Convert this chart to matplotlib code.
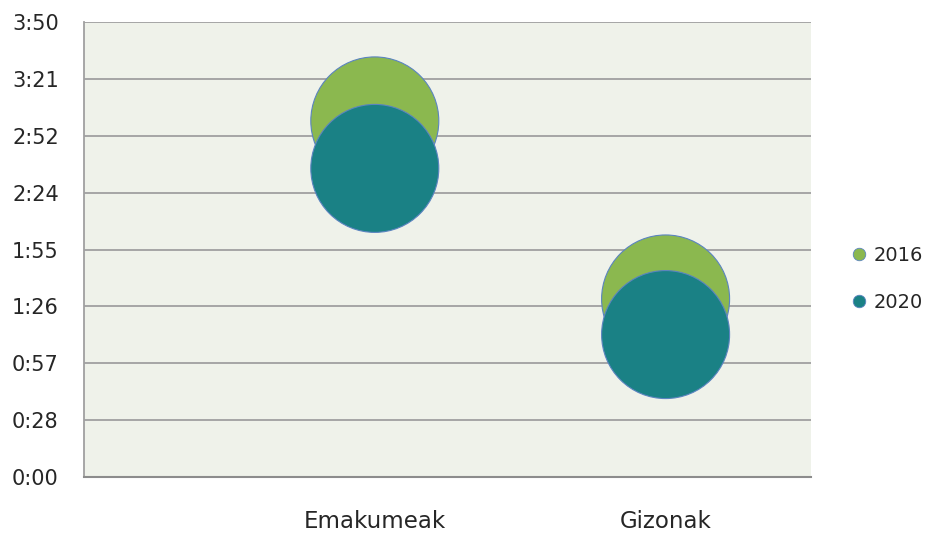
import matplotlib
matplotlib.use("Agg")
import matplotlib.pyplot as plt
import matplotlib.transforms as mtransforms
from matplotlib.lines import Line2D

plt.rcParams['font.family'] = ['DejaVu Sans']

categories = ["Emakumeak", "Gizonak"]
x_pos = [1, 2]
series = ["2016", "2020"]
# values in minutes (h:mm)
values_2016 = [180, 90]
values_2020 = [156, 72]
bubble_sizes = [1.0, 1.0]
y_tick_labels = ["0:00", "0:28", "0:57", "1:26", "1:55", "2:24", "2:52", "3:21", "3:50"]
y_max = 230

colors = {"2016": "#8BB84F", "2020": "#1A8185"}
edge = "#5B84C0"
text_color = "#262626"

W, H = 932, 533
fig = plt.figure(figsize=(W / 100, H / 100), dpi=100)
ax = fig.add_axes([84 / W, 1 - 477 / H, (811 - 84) / W, (477 - 22) / H])
ax.set_facecolor("#EFF2EA")

base_s = (128 * 0.72) ** 2
for name, vals in [("2016", values_2016), ("2020", values_2020)]:
    ax.scatter(x_pos, vals, s=[base_s * b for b in bubble_sizes], color=colors[name],
               edgecolors=edge, linewidths=0.8, zorder=3, clip_on=False)

ax.set_xlim(0, 2.5)
ax.set_ylim(0, y_max)
yt = [y_max * i / 8 for i in range(9)]
ax.set_yticks(yt)
ax.set_yticklabels(y_tick_labels)
ax.set_xticks(x_pos)
ax.set_xticklabels(categories)
ax.tick_params(axis='x', length=0, pad=24, labelsize=16.5, colors=text_color)
ax.tick_params(axis='y', length=0, pad=0, labelsize=15, colors=text_color)
ytrans = mtransforms.blended_transform_factory(fig.transFigure, ax.transData)
for lab in ax.get_yticklabels():
    lab.set_horizontalalignment('left')
    lab.set_transform(ytrans)
    lab.set_x(12 / W)

ax.grid(axis='y', color="#A0A0A0", linewidth=1.3, zorder=1)
ax.set_axisbelow(True)
for side in ["top", "right"]:
    ax.spines[side].set_visible(False)
ax.spines["left"].set_color("#A0A0A0")
ax.spines["left"].set_linewidth(1.3)
ax.spines["bottom"].set_color("#8C8C8C")
ax.spines["bottom"].set_linewidth(1.5)

handles = [Line2D([0], [0], marker='o', linestyle='none', markersize=9,
                  markerfacecolor=colors[s], markeredgecolor=edge, markeredgewidth=0.6, label=s)
           for s in series]
fig.legend(handles=handles, loc='center left', bbox_to_anchor=(841 / W, 1 - 279 / H),
           frameon=False, fontsize=14, handletextpad=0.3, labelspacing=1.45,
           handlelength=1.0, borderaxespad=0, labelcolor=text_color)

fig.savefig("out.png", dpi=100)
